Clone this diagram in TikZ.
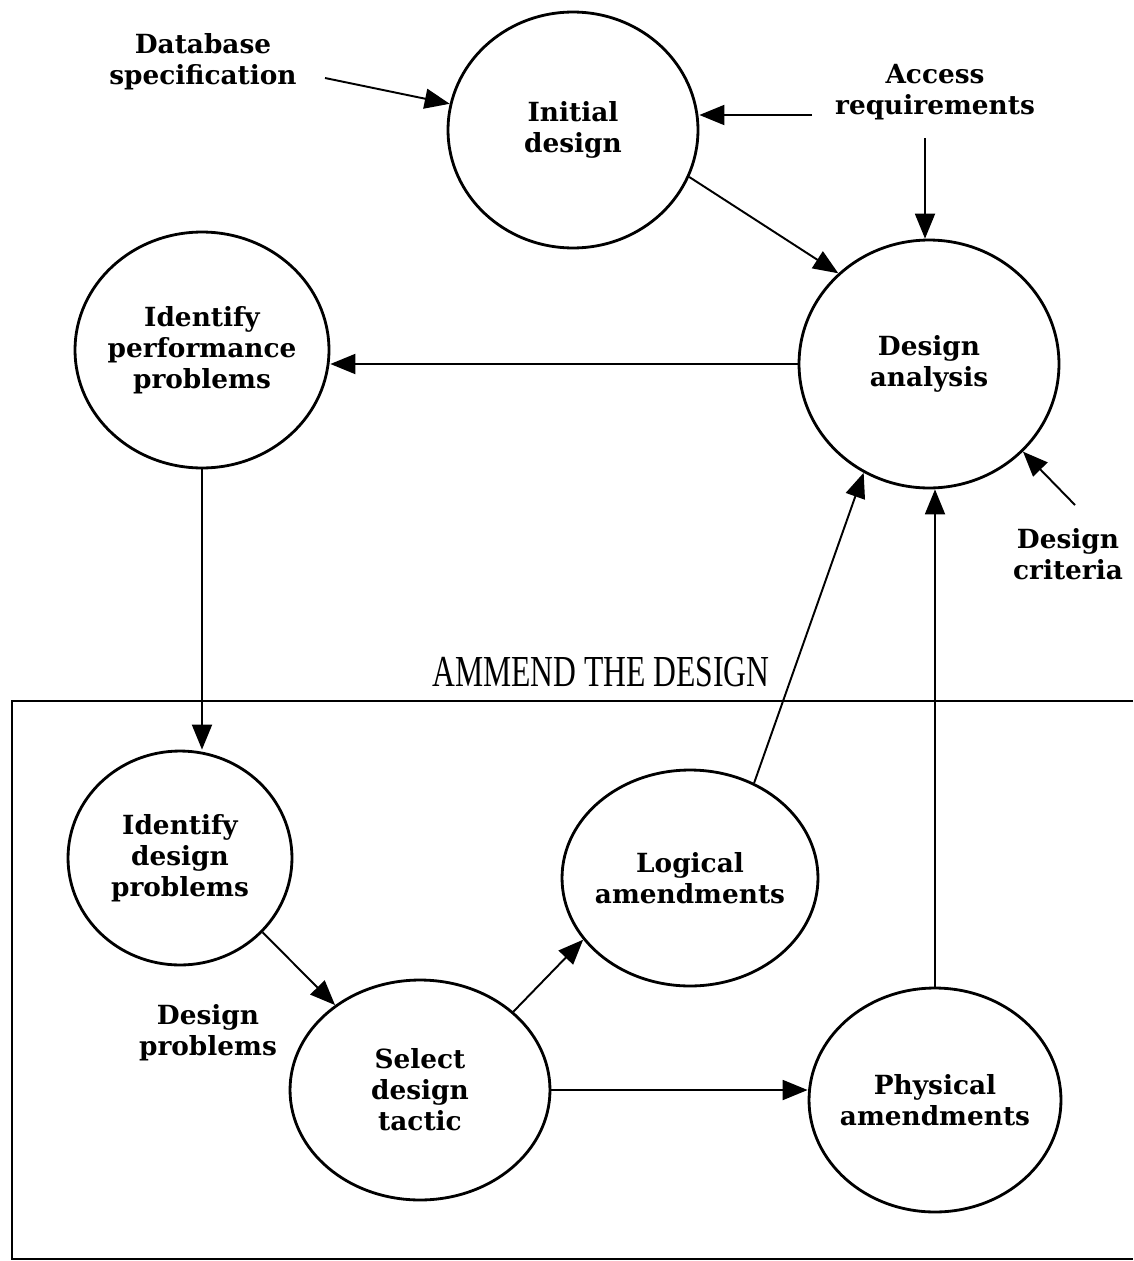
\documentclass[tikz,border=0pt]{standalone}
\usepackage{fontspec}
\setmainfont{DejaVu Serif}
\newfontfamily\titlefont{Liberation Serif}
\usetikzlibrary{shapes.geometric,arrows.meta}

\begin{document}
\begin{tikzpicture}[x=0.02cm, y=-0.02cm,
    proc/.style={draw, ellipse, line width=1.6pt, inner sep=-10pt, align=center,
      font=\fontsize{15}{17.6}\selectfont\bfseries},
    lbl/.style={align=center, font=\fontsize{15}{17.6}\selectfont\bfseries},
    arr/.style={-{Triangle[length=5mm, width=4mm]}, line width=1.1pt}]
    \useasboundingbox (0,0) rectangle (1133,1261);
    % Nodes
    \node [proc, minimum width=5cm, minimum height=4.72cm] (init) at (573,130) {Initial\\design};
    \node [proc, minimum width=5.2cm, minimum height=4.96cm] (da) at (929,364) {Design\\analysis};
    \node [proc, minimum width=5.08cm, minimum height=4.72cm] (idp) at (202,350) {Identify\\performance\\problems};
    \node [proc, minimum width=4.48cm, minimum height=4.28cm] (idd) at (180,858) {Identify\\design\\problems};
    \node [proc, minimum width=5.12cm, minimum height=4.32cm] (log) at (690,878) {Logical\\amendments};
    \node [proc, minimum width=5.2cm, minimum height=4.4cm] (sel) at (420,1090) {Select\\design\\tactic};
    \node [proc, minimum width=5.04cm, minimum height=4.48cm] (phy) at (935,1100) {Physical\\amendments};

    \node [lbl] (dbspec) at (203,62) {Database\\specification};
    \node [lbl] (acc) at (935,92) {Access\\requirements};
    \node [lbl] (crit) at (1068,554) {Design\\criteria};
    \node [lbl] (dprob) at (208,1033) {Design\\problems};
    \node [font=\titlefont\fontsize{18}{20}\selectfont] (amd) at (601,672) {\scalebox{1}[1.4]{AMMEND THE DESIGN}};

    \coordinate (dbsR) at (325,78);
    \coordinate (accL) at (812,115);
    \coordinate (accD) at (925,138);
    \coordinate (critU) at (1075,505);

    % Frame
    \draw [line width=1.1pt] (1133,701) -- (12,701) -- (12,1259) -- (1133,1259);

    % Arrows
    \draw [arr] (dbsR) -- (init.168);
    \draw [arr] (accL) -- (accL -| init.east);
    \draw [arr] (accD) -- (accD |- da.north);
    \draw [arr] (init.-22) -- (da.135);
    \draw [arr] (da.west) -- (da.west -| idp.east);
    \draw [arr] (critU) -- (da.-43);
    \draw [arr] (idp.south) -- (idp.south |- idd.north);
    \draw [arr] (idd.-42) -- (sel.135);
    \draw [arr] (sel.40) -- (log.-150);
    \draw [arr] (sel.east) -- (sel.east -| phy.west);
    \draw [arr] (log.56) -- (da.-121);
    \draw [arr] (phy.north) -- (phy.north |- da.south);
\end{tikzpicture}
\end{document}
